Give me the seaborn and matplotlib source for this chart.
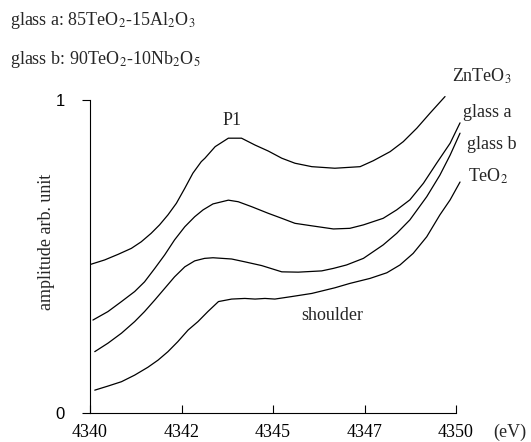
import matplotlib
matplotlib.use("Agg")
import matplotlib.pyplot as plt
import numpy as np
import pandas as pd
import seaborn as sns

# curves (energy in eV, amplitude in arb. units)
zn_x = [4340.02, 4340.40, 4340.77, 4341.13, 4341.40, 4341.67, 4341.90, 4342.13, 4342.36, 4342.59,
        4342.81, 4343.04, 4343.14, 4343.42, 4343.78, 4344.14, 4344.51, 4344.87, 4345.24, 4345.60,
        4346.06, 4346.69, 4347.38, 4347.74, 4348.20, 4348.56, 4348.93, 4349.29, 4349.70]
zn_y = [0.475, 0.489, 0.507, 0.526, 0.547, 0.574, 0.601, 0.633, 0.670, 0.718,
        0.766, 0.803, 0.814, 0.851, 0.878, 0.878, 0.856, 0.837, 0.814, 0.798,
        0.787, 0.782, 0.787, 0.806, 0.835, 0.867, 0.910, 0.958, 1.011]

ga_x = [4340.08, 4340.49, 4340.86, 4341.22, 4341.49, 4341.77, 4342.04, 4342.31, 4342.59, 4342.86,
        4343.09, 4343.36, 4343.78, 4344.05, 4344.42, 4344.87, 4345.24, 4345.60, 4346.06, 4346.65,
        4347.10, 4347.47, 4348.01, 4348.38, 4348.74, 4349.11, 4349.47, 4349.84, 4350.11]
ga_y = [0.297, 0.324, 0.356, 0.388, 0.419, 0.462, 0.505, 0.553, 0.595, 0.627,
        0.649, 0.668, 0.680, 0.675, 0.659, 0.638, 0.622, 0.606, 0.598, 0.588,
        0.590, 0.601, 0.622, 0.649, 0.681, 0.734, 0.798, 0.862, 0.927]

gb_x = [4340.13, 4340.49, 4340.86, 4341.22, 4341.49, 4341.77, 4342.04, 4342.31, 4342.59, 4342.86,
        4343.13, 4343.36, 4343.87, 4344.23, 4344.69, 4345.24, 4345.69, 4346.33, 4346.65, 4347.01,
        4347.47, 4348.01, 4348.38, 4348.74, 4349.20, 4349.56, 4349.84, 4350.11]
gb_y = [0.196, 0.223, 0.255, 0.292, 0.324, 0.361, 0.398, 0.435, 0.467, 0.486,
        0.494, 0.496, 0.492, 0.483, 0.471, 0.451, 0.450, 0.454, 0.462, 0.473,
        0.494, 0.537, 0.574, 0.617, 0.691, 0.760, 0.824, 0.894]

te_x = [4340.13, 4340.49, 4340.86, 4341.22, 4341.58, 4341.86, 4342.13, 4342.40, 4342.68, 4342.95,
        4343.22, 4343.51, 4343.87, 4344.23, 4344.51, 4344.78, 4345.05, 4345.51, 4346.06, 4346.69,
        4347.10, 4347.65, 4348.11, 4348.47, 4348.83, 4349.20, 4349.56, 4349.84, 4350.11]
te_y = [0.073, 0.086, 0.100, 0.121, 0.146, 0.169, 0.196, 0.228, 0.265, 0.292,
        0.324, 0.356, 0.364, 0.366, 0.364, 0.366, 0.364, 0.372, 0.382, 0.400,
        0.414, 0.430, 0.448, 0.473, 0.510, 0.563, 0.633, 0.681, 0.738]

x_ticks = [4340, 4342.5, 4345, 4347.5, 4350]
x_tick_labels = ["4340", "4342", "4345", "4347", "4350"]

sns.set_style("ticks")
plt.rcParams["font.family"] = ["Liberation Serif", "DejaVu Serif"]
plt.rcParams["mathtext.fontset"] = "stix"

fig = plt.figure(figsize=(5.31, 4.42), dpi=100)
ax = fig.add_axes([90 / 531, 29 / 442, 366 / 531, 313 / 442])

curves = [
    (zn_x, zn_y, r"ZnTeO$_3$", 1.058),
    (ga_x, ga_y, "glass a", 0.946),
    (gb_x, gb_y, "glass b", 0.843),
    (te_x, te_y, r"TeO$_2$", 0.738),
]
label_x = [4349.89, 4350.19, 4350.30, 4350.33]

for (cx, cy, name, ly), lx in zip(curves, label_x):
    sns.lineplot(x=cx, y=cy, ax=ax, color="black", linewidth=0.9,
                 sort=False, estimator=None, clip_on=False)
    ax.text(lx, ly, name, fontsize=13, ha="left", va="baseline", clip_on=False)

ax.text(4343.88, 0.933, "P1", fontsize=13, ha="center", va="center")
ax.text(4346.61, 0.310, "shoulder", fontsize=13, ha="center", va="center")

ax.set_xlim(4340, 4350)
ax.set_ylim(0, 1)
ax.set_xticks(x_ticks, x_tick_labels, fontsize=13)
ax.set_yticks([0, 1], ["0", "1"], fontsize=12, fontfamily="Liberation Sans")
ax.tick_params(axis="x", direction="in", length=5.5, width=0.8, pad=8, colors="black")
ax.tick_params(axis="y", direction="out", length=6, width=0.8, pad=12, colors="black")
sns.despine(ax=ax)
for s in ["left", "bottom"]:
    ax.spines[s].set_linewidth(0.8)
    ax.spines[s].set_color("black")

ax.set_ylabel("amplitude arb. unit", fontsize=13)
ax.yaxis.set_label_coords(-0.096, 0.546)

fig.text(493 / 531, 1 - 437 / 442, "(eV)", fontsize=13, ha="left", va="baseline")
fig.text(10 / 531, 1 - 25 / 442, r"glass a: 85TeO$_2$-15Al$_2$O$_3$", fontsize=13,
         ha="left", va="baseline")
fig.text(10 / 531, 1 - 64 / 442, r"glass b: 90TeO$_2$-10Nb$_2$O$_5$", fontsize=13,
         ha="left", va="baseline")

fig.savefig("out.png", dpi=100, facecolor="white")
